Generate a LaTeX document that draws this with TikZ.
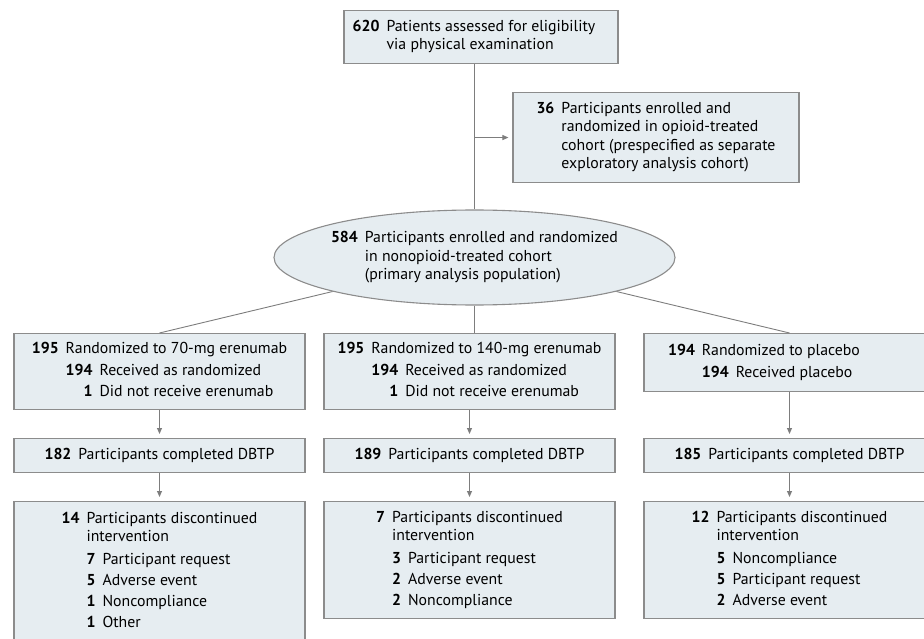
\documentclass[tikz,border=0pt]{standalone}
\usepackage{fontspec}
\setmainfont{PT Sans}
\usetikzlibrary{arrows.meta,shapes.geometric}
\definecolor{boxfill}{RGB}{230,237,241}
\definecolor{boxline}{RGB}{140,140,140}
\definecolor{linkgray}{RGB}{125,125,125}

\begin{document}
\begin{tikzpicture}[x=1pt, y=-1pt,
  box/.style={draw=boxline, fill=boxfill, line width=1.1pt, inner sep=0pt,
    minimum width=291pt, anchor=north, font=\fontsize{15.8}{18.5}\selectfont},
  cohort/.style={ellipse, draw=boxline, fill=boxfill, line width=1.1pt, inner sep=0pt,
    minimum width=401pt, minimum height=95pt},
  txt/.style={inner sep=0pt, font=\fontsize{15.8}{18.5}\selectfont},
  link/.style={draw=linkgray, line width=0.9pt},
  arrow/.style={link, -{Triangle[length=6pt,width=5pt]}, shorten >=4pt}]
  \useasboundingbox (0,0) rectangle (924,639);
  % screening and opioid cohort
  \node[box, minimum width=274pt, minimum height=53pt] (screen) at (481,10) {%
    \begin{tabular}{@{}r@{\hspace{7pt}}l@{\hspace{14pt}}}
      \textbf{620} & Patients assessed for eligibility\\
                   & via physical examination
    \end{tabular}};
  \node[box, minimum width=286pt, minimum height=90pt] (opioid) at (656,92) {%
    \begin{tabular}{@{}r@{\hspace{7pt}}l@{}}
      \textbf{36} & Participants enrolled and\\
                  & randomized in opioid-treated\\
                  & cohort (prespecified as separate\\
                  & exploratory analysis cohort)
    \end{tabular}};
  \node[cohort] (nonopioid) at (474.5,257.5) {};
  \node[txt] (nonopioidtxt) at (nonopioid) {%
    \begin{tabular}{@{}r@{\hspace{7pt}}l@{}}
      \textbf{584} & Participants enrolled and randomized\\
                   & in nonopioid-treated cohort\\
                   & (primary analysis population)
    \end{tabular}};
  % randomized arms
  \node[box, minimum height=76pt] (rand70) at (159.5,333) {%
    \begin{tabular}{@{}r@{\hspace{7pt}}r@{\hspace{7pt}}l@{}}
      \textbf{195} & \multicolumn{2}{@{}l@{}}{Randomized to 70-mg erenumab}\\[3pt]
                   & \textbf{194} & Received as randomized\\[3pt]
                   & \textbf{1} & Did not receive erenumab
    \end{tabular}};
  \node[box, minimum height=76pt] (rand140) at (469.5,333) {%
    \begin{tabular}{@{}r@{\hspace{7pt}}r@{\hspace{7pt}}l@{}}
      \textbf{195} & \multicolumn{2}{@{}l@{}}{Randomized to 140-mg erenumab}\\[3pt]
                   & \textbf{194} & Received as randomized\\[3pt]
                   & \textbf{1} & Did not receive erenumab
    \end{tabular}};
  \node[box, minimum height=58pt] (randpl) at (789.5,333) {%
    \begin{tabular}{@{}r@{\hspace{7pt}}r@{\hspace{7pt}}l@{\hspace{51pt}}}
      \textbf{194} & \multicolumn{2}{@{}l@{\hspace{51pt}}}{Randomized to placebo}\\[3pt]
                   & \textbf{194} & Received placebo
    \end{tabular}};
  % completed
  \node[box, minimum height=34pt] (comp70) at (159.5,438) {\textbf{182}\hspace{7pt}Participants completed DBTP};
  \node[box, minimum height=34pt] (comp140) at (469.5,438) {\textbf{189}\hspace{7pt}Participants completed DBTP};
  \node[box, minimum height=34pt] (comppl) at (789.5,438) {\textbf{185}\hspace{7pt}Participants completed DBTP};
  % discontinued
  \node[box, minimum height=140pt] (disc70) at (159.5,501) {%
    \begin{tabular}{@{}r@{\hspace{7pt}}r@{\hspace{7pt}}l@{}}
      \textbf{14} & \multicolumn{2}{@{}l@{}}{Participants discontinued}\\
                  & \multicolumn{2}{@{}l@{}}{intervention}\\[4pt]
                  & \textbf{7} & Participant request\\[2.5pt]
                  & \textbf{5} & Adverse event\\[2.5pt]
                  & \textbf{1} & Noncompliance\\[2.5pt]
                  & \textbf{1} & Other
    \end{tabular}};
  \node[box, minimum height=117pt] (disc140) at (469.5,501) {%
    \begin{tabular}{@{}r@{\hspace{7pt}}r@{\hspace{7pt}}l@{}}
      \textbf{7} & \multicolumn{2}{@{}l@{}}{Participants discontinued}\\
                 & \multicolumn{2}{@{}l@{}}{intervention}\\[4pt]
                 & \textbf{3} & Participant request\\[2.5pt]
                 & \textbf{2} & Adverse event\\[2.5pt]
                 & \textbf{2} & Noncompliance
    \end{tabular}};
  \node[box, minimum height=117pt] (discpl) at (789.5,501) {%
    \begin{tabular}{@{}r@{\hspace{7pt}}r@{\hspace{7pt}}l@{}}
      \textbf{12} & \multicolumn{2}{@{}l@{}}{Participants discontinued}\\
                  & \multicolumn{2}{@{}l@{}}{intervention}\\[4pt]
                  & \textbf{5} & Noncompliance\\[2.5pt]
                  & \textbf{5} & Participant request\\[2.5pt]
                  & \textbf{2} & Adverse event
    \end{tabular}};
  % connectors
  \draw[link] (screen.south -| nonopioid.north) -- (nonopioid.north);
  \draw[arrow] (nonopioid.north |- opioid.west) -- (opioid.west);
  \draw[link] (nonopioid) -- (rand70.north);
  \draw[link] (nonopioid.south) -- (nonopioid.south |- rand140.north);
  \draw[link] (nonopioid) -- (randpl.north);
  \draw[arrow] (rand70) -- (comp70);
  \draw[arrow] (rand140) -- (comp140);
  \draw[arrow] (randpl) -- (comppl);
  \draw[arrow] (comp70) -- (disc70);
  \draw[arrow] (comp140) -- (disc140);
  \draw[arrow] (comppl) -- (discpl);
\end{tikzpicture}
\end{document}
